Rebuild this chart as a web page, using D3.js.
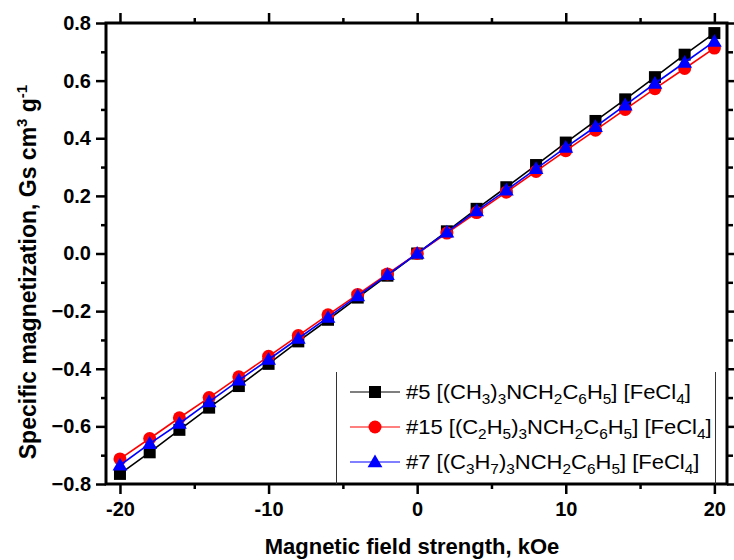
<!DOCTYPE html>
<html><head><meta charset="utf-8">
<script src="https://cdn.jsdelivr.net/npm/d3@7"></script>
<style>
html,body{margin:0;padding:0;background:#fff;}
svg{display:block;}
text{font-family:"Liberation Sans",Arial,sans-serif;}
</style></head>
<body>
<svg id="chart" width="734" height="560"></svg>
<script>
const fieldKOe = [-20,-18,-16,-14,-12,-10,-8,-6,-4,-2,0,2,4,6,8,10,12,14,16,18,20];
const s5  = [-0.765,-0.690,-0.612,-0.535,-0.460,-0.383,-0.305,-0.230,-0.153,-0.077,0.000,0.077,0.155,0.230,0.307,0.385,0.460,0.535,0.612,0.690,0.765];
const s15 = [-0.713,-0.642,-0.570,-0.500,-0.428,-0.357,-0.285,-0.213,-0.142,-0.071,0.000,0.071,0.142,0.213,0.285,0.357,0.428,0.500,0.572,0.642,0.713];
const s7  = [-0.735,-0.660,-0.590,-0.515,-0.440,-0.368,-0.295,-0.222,-0.147,-0.074,0.000,0.074,0.148,0.220,0.294,0.368,0.440,0.515,0.590,0.663,0.736];
const xMajorTicks = [-20,-10,0,10,20];
const xMinorTicks = [-15,-5,5,15];
const yMajorTicks = [-0.8,-0.6,-0.4,-0.2,0.0,0.2,0.4,0.6,0.8];
const yMinorTicks = [-0.7,-0.5,-0.3,-0.1,0.1,0.3,0.5,0.7];

const series = [
  {name:"#5", data:s5, color:"#000000", shape:"square",
   label:[["#5 [(CH",0],["3",1],[")",0],["3",1],["NCH",0],["2",1],["C",0],["6",1],["H",0],["5",1],["] [FeCl",0],["4",1],["]",0]]},
  {name:"#15", data:s15, color:"#ff0000", shape:"circle",
   label:[["#15 [(C",0],["2",1],["H",0],["5",1],[")",0],["3",1],["NCH",0],["2",1],["C",0],["6",1],["H",0],["5",1],["] [FeCl",0],["4",1],["]",0]]},
  {name:"#7", data:s7, color:"#0000ff", shape:"triangle",
   label:[["#7 [(C",0],["3",1],["H",0],["7",1],[")",0],["3",1],["NCH",0],["2",1],["C",0],["6",1],["H",0],["5",1],["] [FeCl",0],["4",1],["]",0]]}
];

const L=106, R=727, T=23, B=484;
const svg = d3.select("#chart");
const x = d3.scaleLinear().domain([-20.94,20.85]).range([L,R]);
const y = d3.scaleLinear().domain([-0.8,0.8]).range([B,T]);

function styleAxis(g){
  g.select(".domain").remove();
  g.selectAll(".tick line").attr("stroke","#000").attr("stroke-width",2.5);
  g.selectAll("text").attr("font-weight","bold").attr("font-size",20).attr("fill","#000");
}
const fmtY = d=> d3.format(".1f")(d).replace("-","\u2013");
const fmtX = d=> (d<0?"-":"")+Math.abs(d);

svg.append("g").attr("transform",`translate(0,${B})`)
  .call(d3.axisBottom(x).tickValues(xMajorTicks).tickSize(10).tickPadding(8).tickFormat(fmtX)).call(styleAxis);
svg.append("g").attr("transform",`translate(0,${B})`)
  .call(d3.axisBottom(x).tickValues(xMinorTicks).tickSize(5).tickFormat("")).call(styleAxis);
svg.append("g").attr("transform",`translate(0,${T})`)
  .call(d3.axisTop(x).tickValues(xMajorTicks).tickSize(10).tickFormat("")).call(styleAxis);
svg.append("g").attr("transform",`translate(0,${T})`)
  .call(d3.axisTop(x).tickValues(xMinorTicks).tickSize(5).tickFormat("")).call(styleAxis);
svg.append("g").attr("transform",`translate(${L},0)`)
  .call(d3.axisLeft(y).tickValues(yMajorTicks).tickSize(10).tickPadding(5).tickFormat(fmtY)).call(styleAxis);
svg.append("g").attr("transform",`translate(${L},0)`)
  .call(d3.axisLeft(y).tickValues(yMinorTicks).tickSize(5).tickFormat("")).call(styleAxis);
svg.append("g").attr("transform",`translate(${R},0)`)
  .call(d3.axisRight(y).tickValues(yMajorTicks).tickSize(8).tickFormat("")).call(styleAxis);
svg.append("g").attr("transform",`translate(${R},0)`)
  .call(d3.axisRight(y).tickValues(yMinorTicks).tickSize(6).tickFormat("")).call(styleAxis);

svg.append("rect").attr("x",L).attr("y",T).attr("width",R-L).attr("height",B-T)
  .attr("fill","none").attr("stroke","#000").attr("stroke-width",3);

const line = d3.line().x((d,i)=>x(fieldKOe[i])).y(d=>y(d));
function marker(g, shape, color, cx, cy){
  if(shape==="square"){
    g.append("rect").attr("x",cx-6).attr("y",cy-6).attr("width",12).attr("height",12).attr("fill",color);
  } else if(shape==="circle"){
    g.append("circle").attr("cx",cx).attr("cy",cy).attr("r",6.5).attr("fill",color);
  } else {
    const sym = d3.symbol().type(d3.symbolTriangle).size(95);
    g.append("path").attr("d",sym()).attr("transform",`translate(${cx},${cy+1})`).attr("fill",color);
  }
}
series.forEach(s=>{
  const g = svg.append("g");
  g.append("path").datum(s.data).attr("d",line).attr("fill","none").attr("stroke",s.color).attr("stroke-width",1.6);
  s.data.forEach((v,i)=>marker(g,s.shape,s.color,x(fieldKOe[i]),y(v)));
});

// legend
const lg = svg.append("g");
lg.append("line").attr("x1",336.5).attr("x2",336.5).attr("y1",372).attr("y2",B).attr("stroke","#333").attr("stroke-width",1);
lg.append("line").attr("x1",715.5).attr("x2",715.5).attr("y1",372).attr("y2",B).attr("stroke","#333").attr("stroke-width",1);
const legY=[392,427,462];
series.forEach((s,k)=>{
  const yy=legY[k];
  lg.append("line").attr("x1",350).attr("x2",400).attr("y1",yy).attr("y2",yy).attr("stroke",s.color).attr("stroke-width",1.2);
  marker(lg,s.shape,s.color,375,yy);
  const t = lg.append("text").attr("transform",`translate(406,${yy+7}) scale(1.1,1)`).attr("fill","#000");
  let cur=0;
  s.label.forEach(([txt,sub])=>{
    const want = sub?5:0;
    t.append("tspan").attr("font-size",sub?14:20).attr("dy",want-cur).text(txt);
    cur=want;
  });
});

svg.append("text").attr("x",412).attr("y",554).attr("text-anchor","middle")
  .attr("font-weight","bold").attr("font-size",22).text("Magnetic field strength, kOe");
const yt = svg.append("text").attr("transform",`translate(36,272) rotate(-90)`).attr("text-anchor","middle")
  .attr("font-weight","bold").attr("font-size",23);
yt.append("tspan").text("Specific magnetization, Gs cm");
yt.append("tspan").attr("font-size",15).attr("dy",-9).text("3");
yt.append("tspan").attr("dy",9).text(" g");
yt.append("tspan").attr("font-size",15).attr("dy",-9).text("-1");
</script>
</body></html>
